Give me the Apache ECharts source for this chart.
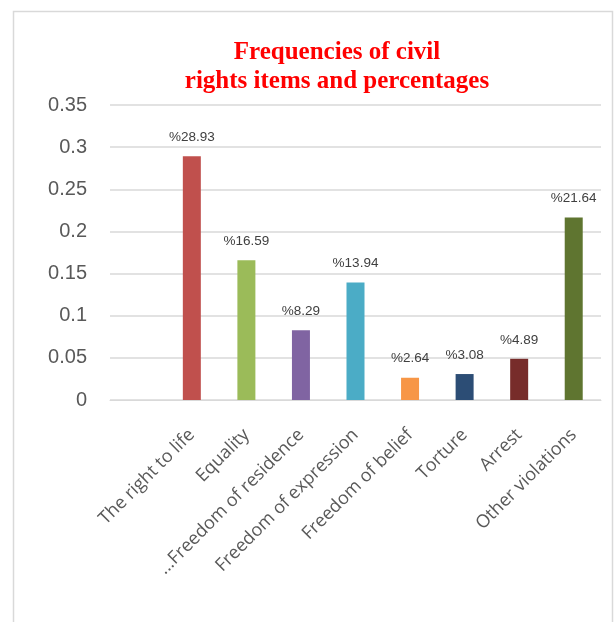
<!DOCTYPE html>
<html>
<head>
<meta charset="utf-8">
<script src="https://cdn.jsdelivr.net/npm/echarts@6/dist/echarts.min.js"></script>
<style>
  html, body { margin: 0; padding: 0; background: #fff; }
  #chart { width: 614px; height: 622px; }
</style>
</head>
<body>
<div id="chart"></div>
<script>
// Civil-rights item categories (first slot intentionally left blank)
const categories = ['', 'The right to life', 'Equality', '...Freedom of residence',
  'Freedom of expression', 'Freedom of belief', 'Torture', 'Arrest', 'Other violations'];

// Share of each item (fraction of total)
const shares = [null, 0.2893, 0.1659, 0.0829, 0.1394, 0.0264, 0.0308, 0.0489, 0.2164];

// One fill colour per bar
const barColors = [null, '#C0504D', '#9BBB59', '#8064A2', '#4BACC6', '#F79646', '#2C4D75', '#772C2A', '#5F7530'];

// Value-axis ticks
const yTicks = { min: 0, max: 0.35, interval: 0.05 };

const chart = echarts.init(document.getElementById('chart'), null, { renderer: 'canvas' });

chart.setOption({
  backgroundColor: '#ffffff',
  animation: false,
  graphic: [{
    type: 'rect',
    shape: { x: 13.5, y: 11.5, width: 599, height: 640 },
    style: { fill: 'none', stroke: '#d9d9d9', lineWidth: 1.5 },
    silent: true
  }],
  title: {
    text: 'Frequencies of civil\nrights items and percentages',
    left: 332,
    top: 33,
    textAlign: 'center',
    textStyle: {
      fontFamily: '"Liberation Serif", "Times New Roman", serif',
      fontWeight: 'bold',
      fontSize: 25,
      color: '#FF0000',
      lineHeight: 29
    }
  },
  grid: { left: 110, right: 13, top: 105, bottom: 222, containLabel: false },
  xAxis: {
    type: 'category',
    data: categories,
    axisLine: { show: true, lineStyle: { color: '#d9d9d9', width: 1 } },
    axisTick: { show: false },
    axisLabel: {
      interval: 0,
      rotate: 45,
      margin: 32,
      fontFamily: '"Open Sans", sans-serif',
      fontSize: 18,
      color: '#595959'
    }
  },
  yAxis: {
    type: 'value',
    min: yTicks.min,
    max: yTicks.max,
    interval: yTicks.interval,
    axisLine: { show: false },
    axisTick: { show: false },
    splitLine: { lineStyle: { color: '#d9d9d9', width: 1.5 } },
    axisLabel: {
      margin: 23,
      fontFamily: '"Liberation Sans", Arial, sans-serif',
      fontSize: 20,
      color: '#595959',
      formatter: v => String(+v.toFixed(2))
    }
  },
  series: [{
    type: 'bar',
    barWidth: 18,
    data: shares.map((v, i) => v === null ? null : { value: v, itemStyle: { color: barColors[i] } }),
    label: {
      show: true,
      position: 'top',
      distance: 12,
      fontFamily: '"Liberation Sans", Arial, sans-serif',
      fontSize: 13.5,
      color: '#404040',
      formatter: p => '%' + (p.value * 100).toFixed(2)
    }
  }]
});
</script>
</body>
</html>
